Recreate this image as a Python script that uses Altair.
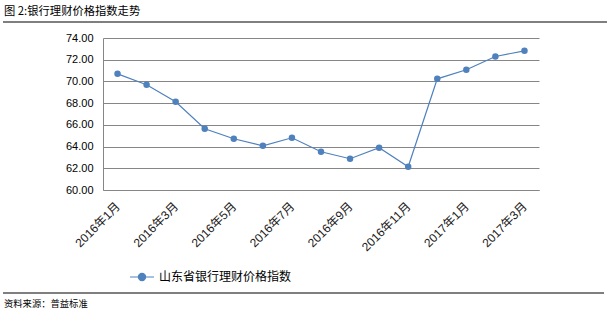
import altair as alt
import pandas as pd

months = ["2016年1月", "2016年2月", "2016年3月", "2016年4月", "2016年5月", "2016年6月",
          "2016年7月", "2016年8月", "2016年9月", "2016年10月", "2016年11月", "2016年12月",
          "2017年1月", "2017年2月", "2017年3月"]
values = [70.70, 69.69, 68.13, 65.64, 64.72, 64.07, 64.81, 63.52, 62.88, 63.89,
          62.14, 70.24, 71.07, 72.30, 72.82]
series_name = "山东省银行理财价格指数"
shown_labels = months[::2]
y_ticks = [60, 62, 64, 66, 68, 70, 72, 74]

title_text = "图 2:银行理财价格指数走势"
source_text = "资料来源：普益标准"

BLUE = "#4F81BD"
GRID = "#868686"
LATIN = "'Liberation Sans', 'Noto Sans CJK SC', sans-serif"
CJK = "'Noto Sans CJK SC', sans-serif"

df = pd.DataFrame({"month": months, "value": values, "series": series_name})

legend_symbol = "M-1,0L1,0M-0.3,0A0.3,0.3,0,1,1,0.3,0A0.3,0.3,0,1,1,-0.3,0Z"

line = alt.Chart(df).mark_line(
    point=alt.OverlayMarkDef(filled=True, size=42, color=BLUE),
    color=BLUE, strokeWidth=1.2
).encode(
    x=alt.X("month:N", sort=months, title=None,
            scale=alt.Scale(padding=0.5),
            axis=alt.Axis(values=shown_labels, labelAngle=-45, labelAlign="right",
                          labelBaseline="middle", labelPadding=14, ticks=False,
                          labelFont=LATIN, labelFontSize=12, labelColor="#1a1a1a",
                          domainColor=GRID, domainWidth=1, grid=False)),
    y=alt.Y("value:Q", title=None,
            scale=alt.Scale(domain=[60, 74], nice=False, zero=False),
            axis=alt.Axis(values=y_ticks, format=".2f", ticks=False, labelPadding=10,
                          labelFont=LATIN, labelFontSize=11, labelColor="#000000",
                          domainColor=GRID, domainWidth=1,
                          grid=True, gridColor=GRID, gridWidth=1, gridOpacity=1)),
    color=alt.Color("series:N", title=None,
                    scale=alt.Scale(range=[BLUE]),
                    legend=alt.Legend(orient="none", legendX=26, legendY=226,
                                      symbolType=legend_symbol, symbolSize=576,
                                      symbolFillColor=BLUE, symbolStrokeColor=BLUE,
                                      symbolStrokeWidth=1.2, labelOffset=4,
                                      labelFont=CJK, labelFontSize=12,
                                      labelColor="#000000"))
)

one = pd.DataFrame({"a": [0]})

top_rule = alt.Chart(one).mark_rule(color="#000000", strokeWidth=1.2).encode(
    x=alt.value(-100), x2=alt.value(504), y=alt.value(-16))
bottom_rule = alt.Chart(one).mark_rule(color="#000000", strokeWidth=1.2).encode(
    x=alt.value(-100), x2=alt.value(501), y=alt.value(255))
title_mark = alt.Chart(one).mark_text(
    text=title_text, align="left", baseline="middle", font=CJK, fontSize=11.3,
    color="#000000").encode(x=alt.value(-99), y=alt.value(-26))
source_mark = alt.Chart(one).mark_text(
    text=source_text, align="left", baseline="middle", font=CJK, fontSize=9.3,
    color="#000000").encode(x=alt.value(-99), y=alt.value(266))

chart = alt.layer(line, top_rule, bottom_rule, title_mark, source_mark).properties(
    width=436, height=152,
    autosize=alt.AutoSizeParams(type="none"),
    padding={"left": 103, "top": 38, "right": 75, "bottom": 130},
).configure_view(stroke=None)

chart.save("out.html", embed_options={"renderer": "svg", "actions": False})
